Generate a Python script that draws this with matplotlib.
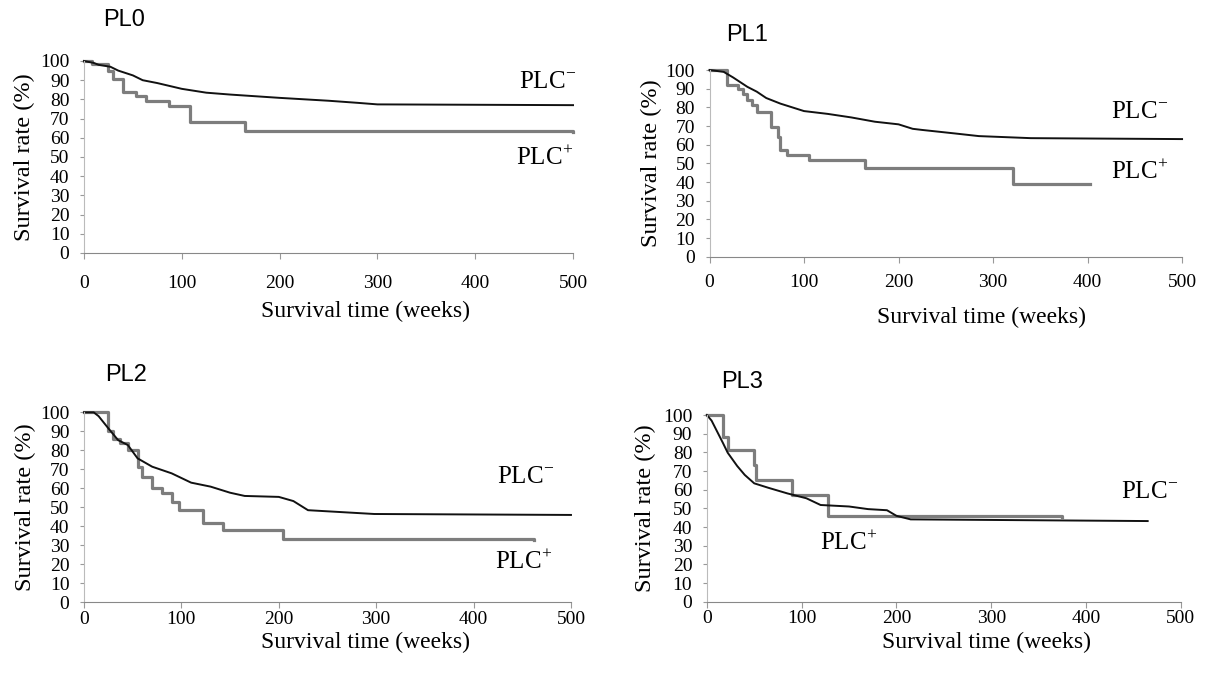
import matplotlib
matplotlib.use("Agg")
from matplotlib import pyplot as plt

plt.rcParams["font.family"] = ["Liberation Serif", "DejaVu Serif"]
plt.rcParams["mathtext.fontset"] = "custom"
plt.rcParams["mathtext.rm"] = "Liberation Serif"

# PL0
pl0_neg_t = [0, 10, 15, 27, 35, 50, 60, 75, 100, 125, 150, 200, 250, 280, 300, 500]
pl0_neg_s = [100, 99, 98, 97, 95, 92.5, 90, 88.5, 85.5, 83.5, 82.5, 80.8, 79.3, 78.2, 77.4, 77]
pl0_pos_t = [0, 8, 25, 30, 40, 53, 63, 87, 108, 165, 500]
pl0_pos_s = [100, 98.5, 95, 90.5, 84, 81.7, 79, 76.5, 68.3, 63.6, 63]

# PL1
pl1_neg_t = [0, 15, 25, 40, 50, 60, 75, 100, 125, 150, 175, 200, 215, 225, 260, 285, 340, 500]
pl1_neg_s = [100, 99, 96, 91, 88.4, 85, 82, 78, 76.5, 74.6, 72.3, 70.9, 68.5, 67.9, 66, 64.6, 63.5, 63]
pl1_pos_t = [0, 18, 30, 35, 40, 45, 50, 65, 72, 75, 82, 105, 165, 321, 403]
pl1_pos_s = [100, 92, 90, 87, 84, 81, 77.3, 69.6, 64, 57, 54.6, 52, 47.5, 39, 39]

# PL2
pl2_neg_t = [0, 10, 15, 25, 35, 45, 55, 70, 90, 110, 130, 150, 165, 200, 215, 230, 298, 500]
pl2_neg_s = [100, 100, 98, 91.6, 85.4, 82.8, 75.8, 71.4, 67.9, 63, 60.9, 57.7, 56, 55.5, 53.3, 48.5, 46.5, 46]
pl2_pos_t = [0, 25, 30, 37, 45, 55, 60, 70, 80, 90, 98, 122, 143, 204, 462]
pl2_pos_s = [100, 90, 86, 84, 80, 71.4, 66, 60, 57.4, 53, 48.8, 41.8, 38.2, 33.5, 33]

# PL3
pl3_neg_t = [0, 5, 12, 17, 22, 32, 40, 50, 65, 85, 105, 120, 150, 170, 190, 200, 215, 465]
pl3_neg_s = [100, 97, 90, 85, 79.8, 72.7, 67.9, 63.4, 61, 58, 55.4, 51.8, 51, 49.6, 49, 46, 44.1, 43.2]
pl3_pos_t = [0, 17, 22, 50, 52, 90, 128, 375]
pl3_pos_s = [100, 88, 81.3, 73, 65.2, 57, 45.7, 45.5]

# name, axes rect, title pos, data, PLC- label, PLC+ label, x tick pad, xlabel pos, ylabel x
panels = [
    ("PL0", [0.0693, 0.6263, 0.4035, 0.2836], (0.085, 0.970),
     pl0_neg_t, pl0_neg_s, pl0_pos_t, pl0_pos_s, (474, 89), (471, 49.5), 11.5, (0.575, -0.307), -0.121),
    ("PL1", [0.5854, 0.6208, 0.3899, 0.2758], (0.599, 0.948),
     pl1_neg_t, pl1_neg_s, pl1_pos_t, pl1_pos_s, (455, 77.5), (455, 45.4), 8.6, (0.575, -0.323), -0.122),
    ("PL2", [0.0693, 0.1103, 0.4018, 0.2806], (0.0866, 0.446),
     pl2_neg_t, pl2_neg_s, pl2_pos_t, pl2_pos_s, (453, 66), (451, 21.2), 2.2, (0.579, -0.209), -0.121),
    ("PL3", [0.5832, 0.1112, 0.3911, 0.2758], (0.595, 0.436),
     pl3_neg_t, pl3_neg_s, pl3_pos_t, pl3_pos_s, (467, 58.8), (149, 31.4), 2.2, (0.590, -0.216), -0.129),
]

fig = plt.figure(figsize=(12.12, 6.77), dpi=100)

for (name, rect, tpos, nt, ns, pt, ps, neg_lab, pos_lab,
     xpad, xlab_pos, ylab_x) in panels:
    ax = fig.add_axes(rect)
    ax.step(pt, ps, where="post", color="#7d7d7d", lw=2.3, clip_on=False)
    ax.plot(nt, ns, color="#111111", lw=1.4, clip_on=False)
    ax.set_xlim(0, 500)
    ax.set_ylim(0, 100)
    ax.set_xticks(range(0, 501, 100))
    ax.set_yticks(range(0, 101, 10))
    for s in ["top", "right"]:
        ax.spines[s].set_visible(False)
    ax.spines["bottom"].set_color("#888888")
    ax.spines["left"].set_color("#bbbbbb")
    ax.tick_params(axis="x", length=4, color="#999999", labelsize=14, pad=xpad)
    ax.tick_params(axis="y", length=3, color="#999999", labelsize=14, pad=7.5)
    ax.set_xlabel("Survival time (weeks)", fontsize=17)
    ax.xaxis.set_label_coords(*xlab_pos)
    ax.xaxis.label.set_verticalalignment("center")
    ax.set_ylabel("Survival rate (%)", fontsize=17.5)
    ax.yaxis.set_label_coords(ylab_x, 0.5)
    ax.yaxis.label.set_verticalalignment("center")
    ax.text(neg_lab[0], neg_lab[1], "PLC$^{-}$", fontsize=18, ha="center", va="center", clip_on=False)
    ax.text(pos_lab[0], pos_lab[1], "PLC$^{+}$", fontsize=18, ha="center", va="center", clip_on=False)
    fig.text(tpos[0], tpos[1], name, fontsize=17, family="Liberation Sans", va="center")

fig.savefig("out.png", dpi=100, facecolor="white")
